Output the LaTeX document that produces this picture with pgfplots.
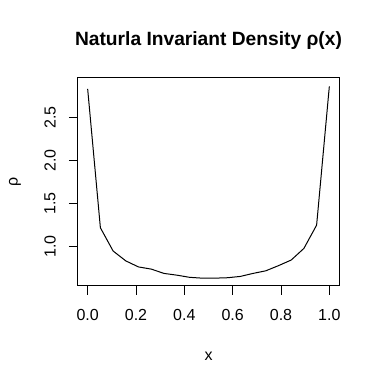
\documentclass[border=0pt]{standalone}
\usepackage{pgfplots}
\pgfplotsset{compat=1.18}
\usepackage{fontspec}
\setmainfont{Liberation Sans}
\begin{document}
\begin{tikzpicture}
\begin{axis}[
  scale only axis,
  width=195.75pt, height=156pt,
  xmin=-0.04, xmax=1.04,
  ymin=0.544, ymax=2.957,
  axis line style={line width=0.75pt},
  xtick={0,0.2,...,1.0},
  ytick={1.0,1.5,2.0,2.5},
  xtick pos=bottom, ytick pos=left,
  tick align=outside,
  major tick length=6.75pt,
  tick style={line width=0.75pt, black},
  xticklabel style={anchor=center, yshift=-15pt, font=\fontsize{12}{14}\selectfont},
  yticklabel style={anchor=center, rotate=90, yshift=14.25pt, font=\fontsize{12}{14}\selectfont},
  /pgf/number format/assume math mode=true,
  xticklabel={\pgfmathprintnumber[fixed,fixed zerofill,precision=1]{\tick}},
  yticklabel={\pgfmathprintnumber[fixed,fixed zerofill,precision=1]{\tick}},
  clip=false,
]
\addplot[black, line width=0.75pt] coordinates {
(0.000000,2.83)
(0.052632,1.22)
(0.105263,0.95)
(0.157895,0.835)
(0.210526,0.765)
(0.263158,0.74)
(0.315789,0.69)
(0.368421,0.67)
(0.421053,0.645)
(0.473684,0.635)
(0.526316,0.635)
(0.578947,0.64)
(0.631579,0.655)
(0.684211,0.69)
(0.736842,0.72)
(0.789474,0.78)
(0.842105,0.845)
(0.894737,0.98)
(0.947368,1.25)
(1.000000,2.86)
};
\node[font=\fontsize{14.4}{16}\selectfont\bfseries] at (rel axis cs:0.5,1) [yshift=27.75pt] {Naturla Invariant Density ρ(x)};
\node[font=\fontsize{12}{14}\selectfont] at (rel axis cs:0.5,0) [yshift=-52.5pt] {x};
\node[font=\fontsize{12}{14}\selectfont] at (rel axis cs:0,0.5) [xshift=-47.25pt, rotate=90] {ρ};
\end{axis}
\useasboundingbox (current axis.south west) ++(-58.5pt,-73.5pt) rectangle ++(288pt,288pt);
\end{tikzpicture}
\end{document}
